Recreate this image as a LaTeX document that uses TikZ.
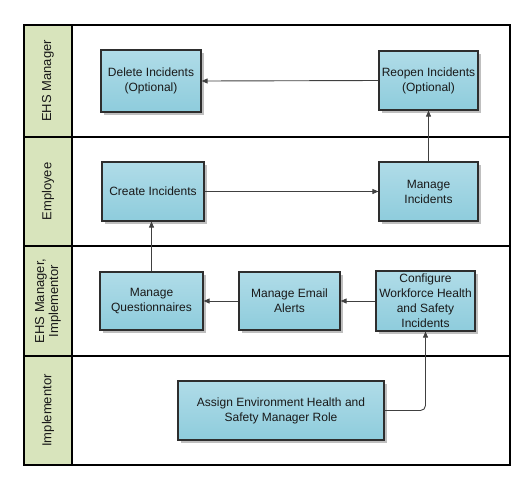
\documentclass[tikz,border=0pt]{standalone}
\usepackage{fontspec}
\setmainfont{Liberation Sans}
\usetikzlibrary{arrows.meta,shadows,calc}
\definecolor{lanefill}{HTML}{D8E4BC}
\definecolor{boxtop}{HTML}{B0DCE8}
\definecolor{boxbot}{HTML}{8ECCDC}
\definecolor{boxline}{HTML}{2E2E2E}
\definecolor{arrowc}{HTML}{404040}
\tikzset{
  taskbox/.style={draw=boxline, line width=1.2pt, top color=boxtop, bottom color=boxbot,
    align=center, inner sep=2pt, font=\fontsize{12}{15}\selectfont, text=black!90,
    drop shadow={shadow xshift=3pt, shadow yshift=-3pt, fill=black!25, opacity=1}},
  lanebox/.style={draw=black, line width=1.4pt},
  labelbox/.style={draw=black, line width=1.4pt, fill=lanefill},
  lanetext/.style={rotate=90, align=center, font=\fontsize{13}{14}\selectfont, text=black!90},
  flow/.style={draw=arrowc, line width=0.9pt, -{Triangle[length=6pt,width=5pt]}}
}
\begin{document}
\begin{tikzpicture}[x=1pt,y=-1pt]
\useasboundingbox (0,0) rectangle (530,491);
% lanes
\draw[lanebox] (72,25) rectangle (510,137);
\draw[lanebox] (72,137) rectangle (510,246);
\draw[lanebox] (72,246) rectangle (510,356);
\draw[lanebox] (72,356) rectangle (510,465);
\draw[labelbox] (24,25) rectangle (72,137);
\draw[labelbox] (24,137) rectangle (72,246);
\draw[labelbox] (24,246) rectangle (72,356);
\draw[labelbox] (24,356) rectangle (72,465);
\node[lanetext] (l1) at (48,81) {EHS Manager};
\node[lanetext] (l2) at (48,191.5) {Employee};
\node[lanetext] (l3) at (48,301) {EHS Manager,\\Implementor};
\node[lanetext] (l4) at (48,410.5) {Implementor};
% tasks
\node[taskbox, minimum width=100pt, minimum height=62pt] (del) at (151,81) {Delete Incidents\\(Optional)};
\node[taskbox, minimum width=99pt, minimum height=59pt] (reo) at (428.5,80.5) {Reopen Incidents\\(Optional)};
\node[taskbox, minimum width=102pt, minimum height=59pt] (cre) at (153,191.5) {Create Incidents};
\node[taskbox, minimum width=99pt, minimum height=59pt] (mi) at (428.5,191.5) {Manage\\Incidents};
\node[taskbox, minimum width=103pt, minimum height=58pt] (mq) at (151.5,301) {Manage\\Questionnaires};
\node[taskbox, minimum width=101pt, minimum height=58pt] (mea) at (289.5,301) {Manage Email\\Alerts};
\node[taskbox, minimum width=99pt, minimum height=60pt] (cfg) at (425.5,301) {Configure\\Workforce Health\\and Safety\\Incidents};
\node[taskbox, minimum width=206pt, minimum height=59pt] (asg) at (281,410.5) {Assign Environment Health and\\Safety Manager Role};
% flows
\draw[flow] (reo.west) -- (del.east);
\draw[flow] (cre.east) -- (mi.west);
\draw[flow] (mi.north) -- (reo.south);
\draw[flow] (mq.north) -- (mq.north |- cre.south);
\draw[flow] (cfg.west) -- (mea.east);
\draw[flow] (mea.west) -- (mq.east);
\draw[flow, rounded corners=5pt] (asg.east) -| (cfg.south);
\end{tikzpicture}
\end{document}
